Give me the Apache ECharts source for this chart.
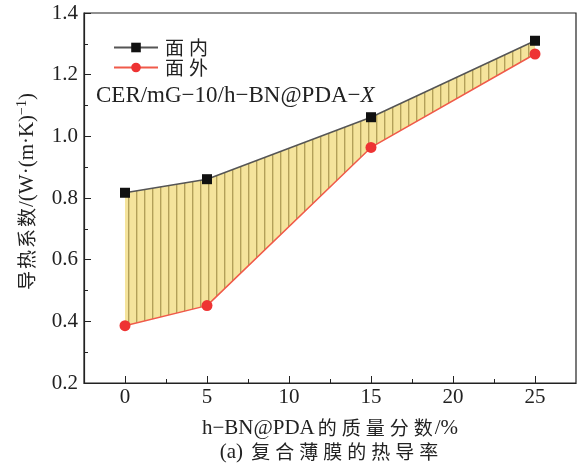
<!DOCTYPE html>
<html><head><meta charset="utf-8">
<script src="https://cdn.jsdelivr.net/npm/echarts@6/dist/echarts.min.js"></script>
<style>html,body{margin:0;padding:0;background:#fff}#c{width:579px;height:468px}</style>
</head><body><div id="c"></div>
<script>
const xValues = [0, 5, 15, 25];
const inPlane = [0.817, 0.861, 1.062, 1.310];
const outPlane = [0.386, 0.451, 0.964, 1.267];
const xMajorTicks = [0, 5, 10, 15, 20, 25];
const xMinorTicks = [2.5, 7.5, 12.5, 17.5, 22.5];
const seriesNames = ['面内', '面外'];

const LAT = '"Liberation Serif", serif';
const CJK = '"Noto Sans CJK SC", sans-serif';

// wrap each CJK character in a rich-text fragment so it can be spaced like the reference
const spaced = (s, tag) => s.replace(/[\u4e00-\u9fff]/g, ch => '{' + tag + '|' + ch + '}');

const pc = document.createElement('canvas');
pc.width = 8; pc.height = 8;
const g = pc.getContext('2d');
g.fillStyle = '#f5e49c'; g.fillRect(0, 0, 8, 8);
g.fillStyle = '#b3a05a'; g.fillRect(0, 0, 1, 8);
g.fillStyle = '#dccb80'; g.fillRect(1, 0, 1, 8);

const pairs = (ys) => xValues.map((x, i) => [x, ys[i]]);

const chart = echarts.init(document.getElementById('c'));
chart.setOption({
  animation: false,
  grid: { left: 84, top: 13, right: 3, bottom: 85, show: true, borderColor: '#222', borderWidth: 1.2, backgroundColor: 'transparent' },
  legend: {
    data: seriesNames, orient: 'vertical', left: 108, top: 33, itemWidth: 44, itemHeight: 12, itemGap: 1,
    formatter: n => spaced(n, 'c'),
    textStyle: { fontFamily: CJK, fontSize: 19, color: '#222',
      rich: { c: { fontFamily: CJK, fontSize: 19, color: '#222', padding: [0, 3, 0, 2] } } }
  },
  xAxis: [{
    type: 'value', min: -2.5, max: 27.5, interval: 2.5,
    axisLine: { onZero: false, lineStyle: { color: '#222', width: 1.2 } },
    axisTick: { inside: true, length: 7, customValues: xMajorTicks, lineStyle: { color: '#222' } },
    axisLabel: { customValues: xMajorTicks, fontFamily: LAT, fontSize: 21, color: '#222', margin: 4 },
    splitLine: { show: false }
  }, {
    type: 'value', min: -2.5, max: 27.5, position: 'bottom',
    axisLine: { show: false, onZero: false },
    axisTick: { inside: true, length: 4, customValues: xMinorTicks, lineStyle: { color: '#222' } },
    axisLabel: { show: false },
    splitLine: { show: false }
  }],
  yAxis: {
    type: 'value', min: 0.2, max: 1.4, interval: 0.2,
    axisLine: { show: true, onZero: false, lineStyle: { color: '#222', width: 1.2 } },
    axisTick: { inside: true, length: 7, lineStyle: { color: '#222' } },
    minorTick: { show: true, splitNumber: 2, length: 4, lineStyle: { color: '#222' } },
    axisLabel: { fontFamily: LAT, fontSize: 21, color: '#222', margin: 6, formatter: v => v.toFixed(1) },
    splitLine: { show: false }
  },
  series: [
    { name: 'band', type: 'custom', silent: true, z: 1,
      data: xValues.map((x, i) => [x, inPlane[i], outPlane[i]]),
      renderItem: function (params, api) {
        if (params.dataIndex !== 0) return null;
        const top = xValues.map((x, i) => api.coord([x, inPlane[i]]));
        const bot = xValues.map((x, i) => api.coord([x, outPlane[i]])).reverse();
        return { type: 'polygon', shape: { points: top.concat(bot) },
          style: { fill: { image: pc, repeat: 'repeat' } } };
      }
    },
    { name: '面内', type: 'line', z: 3, data: pairs(inPlane), symbol: 'rect', symbolSize: 10,
      itemStyle: { color: '#111' }, lineStyle: { color: '#555', width: 1.5 } },
    { name: '面外', type: 'line', z: 3, data: pairs(outPlane), symbol: 'circle', symbolSize: 11,
      itemStyle: { color: '#ee3333' }, lineStyle: { color: '#f05a4a', width: 1.5 } }
  ],
  graphic: [
    { type: 'text', z: 100, left: 96, top: 84, style: { text: 'CER/mG−10/h−BN@PDA−{i|X}', font: '23px ' + LAT, fill: '#222',
      rich: { i: { fontFamily: LAT, fontSize: 23, fontStyle: 'italic', fill: '#222' } } } },
    { type: 'text', z: 100, x: 330, y: 428, style: { text: spaced('h−BN@PDA的质量分数/%', 'c'), font: '21px ' + LAT, fill: '#222', align: 'center', verticalAlign: 'middle',
      rich: { c: { fontFamily: CJK, fontSize: 19, fill: '#222', padding: [0, 2, 0, 3] } } } },
    { type: 'text', z: 100, x: 330, y: 452, style: { text: spaced('(a) 复合薄膜的热导率', 'c'), font: '21px ' + LAT, fill: '#222', align: 'center', verticalAlign: 'middle',
      rich: { c: { fontFamily: CJK, fontSize: 19, fill: '#222', padding: [0, 2, 0, 3] } } } },
    { type: 'text', z: 100, x: 27, y: 192, rotation: Math.PI / 2, style: { text: spaced('导热系数', 'c') + '/(W·(m·K){s|−1})', font: '21px ' + LAT, fill: '#222', align: 'center', verticalAlign: 'middle',
      rich: { c: { fontFamily: CJK, fontSize: 19, fill: '#222', padding: [0, 1, 0, 1] },
              s: { fontFamily: LAT, fontSize: 14, verticalAlign: 'bottom', padding: [0, 0, 10, 0], fill: '#222' } } } }
  ]
});
</script></body></html>
